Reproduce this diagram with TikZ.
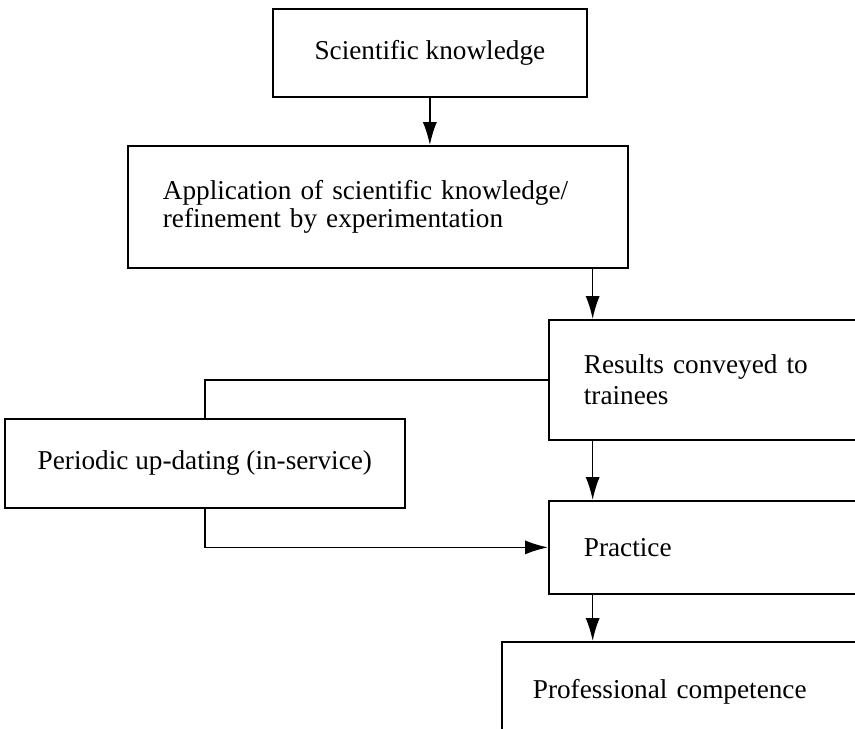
\documentclass[tikz,border=0pt]{standalone}
\usepackage{fontspec}
\setmainfont{Liberation Serif}
\usetikzlibrary{arrows.meta,positioning}

\tikzset{
  riquadro/.style={draw, line width=1pt, align=left, anchor=north west,
    inner xsep=0.66cm, font=\fontsize{15.5}{17.8}\selectfont},
  freccia/.style={-{Latex[length=13pt,width=8pt]}, line width=0.9pt},
  linea/.style={line width=0.9pt}
}

\begin{document}
\begin{tikzpicture}[x=0.02cm, y=-0.02cm]
  \useasboundingbox (0,0) rectangle (855,728);
  \clip (0,0) rectangle (855,728);

  % Disegna i riquadri
  \node[riquadro, minimum width=6.28cm, minimum height=1.76cm, align=center, inner xsep=0pt] (sci) at (272,8) {Scientific knowledge};
  \node[riquadro, minimum width=10cm, minimum height=2.44cm, text width=8.6cm, font=\fontsize{15.5}{15.8}\selectfont] (app) at (127,145) {Application of scientific knowledge/\\refinement by experimentation};
  \node[riquadro, minimum width=7.6cm, minimum height=2.4cm, text width=6.2cm] (res) at (548,319) {Results conveyed to\\trainees};
  \node[riquadro, minimum width=8cm, minimum height=1.78cm, align=center, inner xsep=0pt] (upd) at (4,418) {Periodic up-dating (in-service)};
  \node[riquadro, minimum width=7.6cm, minimum height=1.86cm, text width=6.2cm] (pra) at (548,500) {Practice};
  \node[riquadro, minimum width=8.6cm, minimum height=2cm, text width=7.6cm, inner xsep=0.62cm] (pro) at (501,641) {Professional competence};

  % Punto di partenza delle frecce a destra
  \coordinate (dx) at ([xshift=-0.72cm]app.south east);

  % Disegna le frecce
  \draw[freccia] (sci.south) -- (sci.south |- app.north);
  \draw[freccia] (dx) -- (dx |- res.north);
  \draw[freccia] (dx |- res.south) -- (dx |- pra.north);
  \draw[freccia] (dx |- pra.south) -- (dx |- pro.north);
  \draw[linea] (res.west) -| (upd.north);
  \draw[freccia] (upd.south) |- (pra.west);
\end{tikzpicture}
\end{document}
